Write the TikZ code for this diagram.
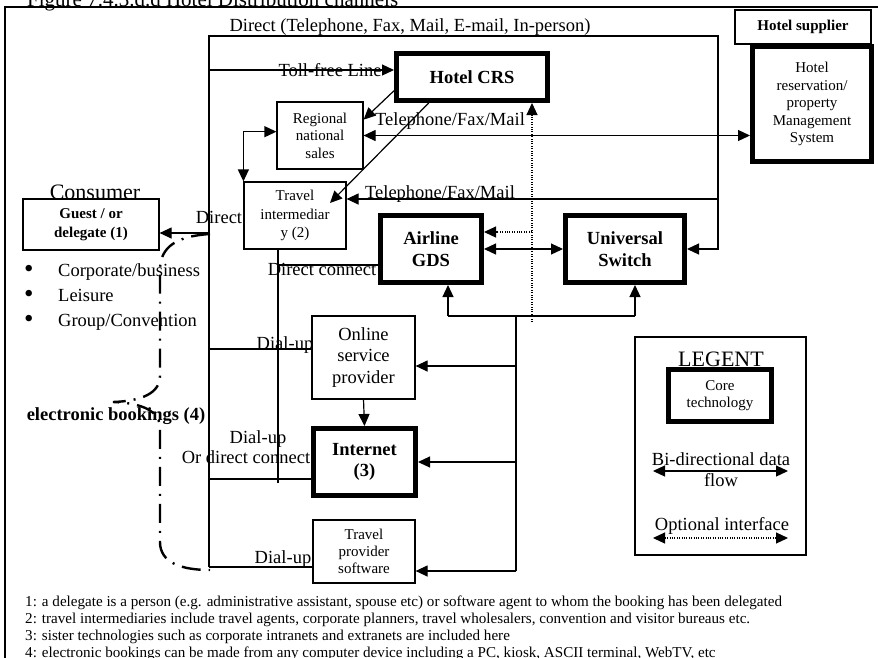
\documentclass[tikz,border=0pt]{standalone}
\usepackage{fontspec}
\setmainfont{Liberation Serif}
\usetikzlibrary{arrows.meta,calc}
\newcommand\pxfont[2]{\fontsize{#1pt}{#2pt}\selectfont}
\newcommand\bigdot{\raisebox{-1.5pt}{\pxfont{27}{27}\textbullet}}

\begin{document}
\begin{tikzpicture}[x=1pt,y=-1pt,
  wire/.style={line width=1.2pt},
  tip/.style={-{Triangle[length=12pt,width=11pt]}},
  tips/.style={{Triangle[length=12pt,width=11pt]}-{Triangle[length=12pt,width=11pt]}},
  optline/.style={line width=1.1pt, dash pattern=on 1pt off 1.4pt},
  brace/.style={line width=2.4pt, dash pattern=on 19pt off 8pt on 2pt off 8pt},
  plainbox/.style={draw, line width=1.2pt, inner sep=0pt, align=center, font=\pxfont{15}{17.5}},
  corebox/.style={draw, line width=5pt, inner sep=0pt, align=center, font=\bfseries\pxfont{18.5}{22}},
  lbl/.style={inner sep=0pt, anchor=base, font=\pxfont{18.5}{22}},
  note/.style={inner sep=0pt, anchor=base west, font=\pxfont{15.1}{17}}]
\useasboundingbox (0,0) rectangle (878,657);
\begin{scope}
\clip (0,0) rectangle (878,657);

% outer frame and caption
\draw[line width=1.5pt] (5,700) -- (5,7) -- (900,7);
\node[inner sep=0pt, anchor=base west, font=\pxfont{21}{25}] (title) at (27,6) {Figure 7.4.3.d.d Hotel Distribution channels};

% ---- boxes ----
\node[corebox, minimum width=151, minimum height=47] (crs) at (472,77) {Hotel CRS};
\node[plainbox, minimum width=86, minimum height=67] (rns) at (320,135.5) {Regional\\national\\sales};
\node[plainbox, font=\pxfont{15}{18.5}, minimum width=102, minimum height=67] (ti) at (295,215.5) {Travel\\intermediar\\y (2)};
\node[plainbox, font=\bfseries\pxfont{15}{19}, minimum width=136, minimum height=51] (guest) at (91,224.5) {Guest / or\\delegate (1)};
\node[corebox, minimum width=101, minimum height=67] (gds) at (431,249) {Airline\\GDS};
\node[corebox, minimum width=119, minimum height=67] (us) at (625,249) {Universal\\Switch};
\node[plainbox, font=\pxfont{18.5}{21.5}, minimum width=103, minimum height=83] (osp) at (363.5,357.5) {Online\\service\\provider};
\node[corebox, font=\bfseries\pxfont{18.5}{21}, minimum width=102, minimum height=67] (inet) at (364.5,462) {Internet\\(3)};
\node[plainbox, font=\pxfont{15}{17}, minimum width=102, minimum height=63] (tps) at (364,551.5) {Travel\\provider\\software};
\node[corebox, font=\pxfont{15}{17.5}, minimum width=119, minimum height=115] (hrs) at (812,104) {Hotel\\reservation/\\property\\Management\\System};
\node[plainbox, fill=white, font=\bfseries\pxfont{15}{18}, minimum width=136, minimum height=34] (hsup) at (803,27) {Hotel supplier};

% ---- consumer side ----
\node[lbl, font=\pxfont{22}{26}] (consumer) at (95,199) {Consumer};
\node[lbl, anchor=base west] (seg1) at (24,276) {\makebox[34pt][l]{\bigdot}Corporate/business};
\node[lbl, anchor=base west] (seg2) at (24,301) {\makebox[34pt][l]{\bigdot}Leisure};
\node[lbl, anchor=base west] (seg3) at (24,326) {\makebox[34pt][l]{\bigdot}Group/Convention};
\node[lbl, font=\bfseries\pxfont{18.5}{22}] (ebook) at (116,420) {electronic bookings (4)};

% ---- channel labels ----
\node[lbl] (lbl-direct-all) at (410,31) {Direct (Telephone, Fax, Mail, E-mail, In-person)};
\node[lbl] (lbl-toll) at (330,76) {Toll-free Line};
\node[lbl] (lbl-tel1) at (450,125) {Telephone/Fax/Mail};
\node[lbl] (lbl-tel2) at (440,198) {Telephone/Fax/Mail};
\node[lbl] (lbl-direct) at (219,223) {Direct};
\node[lbl] (lbl-dconn) at (322,275) {Direct connect};
\node[lbl] (lbl-dial1) at (285,349) {Dial-up};
\node[lbl] (lbl-dial2) at (258,443) {Dial-up};
\node[lbl] (lbl-ordc) at (246,463) {Or direct connect};
\node[lbl] (lbl-dial3) at (283,563) {Dial-up};

% ---- direct channel bus ----
\coordinate (busTL) at (209,36);
\coordinate (busTR) at (718,36);
\coordinate (busBL) at (209,567);
\draw[wire, tip] (busBL) -- (busTL) -- (busTR) |- (us.east);
\coordinate (tollfree) at (209,70);
\draw[wire, tip] (tollfree) -- (tollfree -| crs.west);
\coordinate (direct) at (209,233);
\draw[wire, tip] (direct) -- (direct -| guest.east);
\coordinate (dial1) at (209,349);
\draw[wire] (dial1) -- (dial1 -| osp.west);
\coordinate (dial2) at (209,479);
\draw[wire] (dial2) -- (dial2 -| inet.west);
\draw[wire] (busBL) -- (busBL -| tps.west);
\coordinate (tel2) at (718,199);
\draw[wire, tip] (tel2) -- (tel2 -| ti.east);

% ---- hotel side ----
\draw[wire, tips] (rns.east) -- (rns.east -| hrs.west);
\draw[wire, tip] (crs.190) -- (rns.20);
\coordinate (tiin) at (330,203);
\draw[wire, tip] (crs.211) -- (tiin);
\draw[wire, tips] (rns.175) -| (ti.north west);

% ---- travel intermediary connections ----
\coordinate (tibot) at (278,483);
\draw[wire] (tibot |- ti.south) -- (tibot);
\coordinate (dconn) at (278,265);
\draw[wire] (dconn) -- (dconn -| gds.west);
\draw[wire, tips] (gds.east) -- (us.west);

% ---- optional interface ----
\coordinate (optbot) at (532,322);
\draw[optline, tip] (optbot) -- (optbot |- crs.south);
\coordinate (optgds) at (532,232);
\draw[optline, tip] (optgds) -- (optgds -| gds.east);

% ---- feeds from GDS / switch ----
\coordinate (jl) at (448,316);
\coordinate (jr) at (635,316);
\coordinate (jm) at (516,316);
\coordinate (jb) at (516,571);
\draw[wire, tip] (jl) -- (jl |- gds.south);
\draw[wire, tip] (jr) -- (jr |- us.south);
\draw[wire] (jl) -- (jr);
\draw[wire] (jm) -- (jb);
\coordinate (jo) at (516,366);
\draw[wire, tip] (jo) -- (jo -| osp.east);
\draw[wire, tip] (jm |- inet.east) -- (inet.east);
\draw[wire, tip] (jb) -- (jb -| tps.east);
\draw[wire, tip] (osp.south) -- (inet.north);

% ---- electronic bookings brace ----
\draw[brace] (210,234) .. controls (178,236) and (160,246) .. (160,270) -- (160,376)
  .. controls (160,393) and (142,401) .. (113,402)
  .. controls (142,403) and (160,411) .. (160,428) -- (160,542)
  .. controls (160,562) and (180,570) .. (210,570);

% ---- legend ----
\node[plainbox, minimum width=171, minimum height=218] (legend) at (720.5,446) {};
\node[lbl, font=\pxfont{22}{26}] (legtitle) at (721,366) {LEGENT};
\node[corebox, font=\pxfont{15}{17}, minimum width=103, minimum height=52] (core) at (720,395.5) {Core\\technology};
\node[lbl] (legbi) at (721,465) {Bi-directional data};
\node[lbl] (legflow) at (721,486) {flow};
\coordinate (lba) at (653,471);
\coordinate (lbb) at (788,471);
\draw[wire, tips] (lba) -- (lbb);
\node[lbl] (legopt) at (722,530) {Optional interface};
\coordinate (loa) at (653,538);
\coordinate (lob) at (788,538);
\draw[optline, tips] (loa) -- (lob);

% ---- footnotes ----
\node[note] (n1) at (25,606) {1: a delegate is a person (e.g. administrative assistant, spouse etc) or software agent to whom the booking has been delegated};
\node[note] (n2) at (25,623) {2: travel intermediaries include travel agents, corporate planners, travel wholesalers, convention and visitor bureaus etc.};
\node[note] (n3) at (25,640) {3: sister technologies such as corporate intranets and extranets are included here};
\node[note] (n4) at (25,657) {4: electronic bookings can be made from any computer device including a PC, kiosk, ASCII terminal, WebTV, etc};
\end{scope}
\end{tikzpicture}
\end{document}
